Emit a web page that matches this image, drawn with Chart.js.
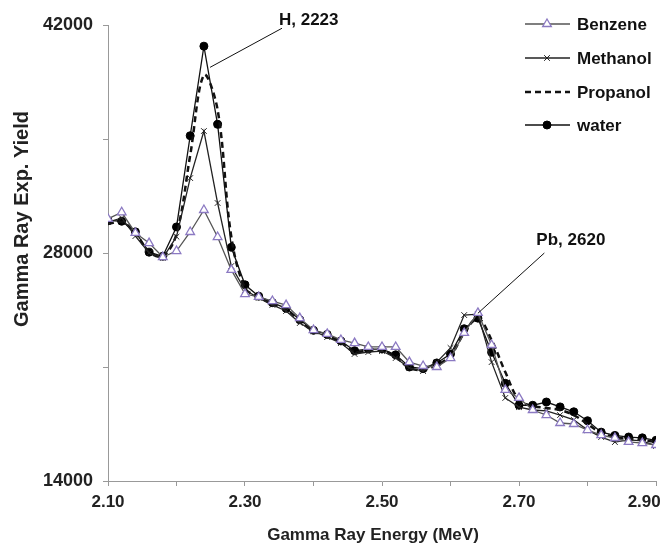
<!DOCTYPE html>
<html>
<head>
<meta charset="utf-8">
<script src="https://cdn.jsdelivr.net/npm/chart.js@4.4.1/dist/chart.umd.min.js"></script>
<style>
  html, body { margin: 0; padding: 0; background: #fff; }
  #wrap { width: 670px; height: 544px; }
</style>
</head>
<body>
<div id="wrap"><canvas id="grafico" width="670" height="544"></canvas></div>
<script>
// gamma ray energy (MeV)
const energy = [2.10, 2.12, 2.14, 2.16, 2.18, 2.20, 2.22, 2.24, 2.26, 2.28,
    2.30, 2.32, 2.34, 2.36, 2.38, 2.40, 2.42, 2.44, 2.46, 2.48,
    2.50, 2.52, 2.54, 2.56, 2.58, 2.60, 2.62, 2.64, 2.66, 2.68,
    2.70, 2.72, 2.74, 2.76, 2.78, 2.80, 2.82, 2.84, 2.86, 2.88, 2.90];

const benzene = [30100, 30500, 29230, 28610, 27750, 28120, 29290, 30640, 28980, 26960,
    25480, 25300, 25050, 24800, 24000, 23270, 23030, 22660, 22470, 22230,
    22230, 22230, 21300, 21060, 21000, 21550, 23090, 24320, 22350, 19590,
    19100, 18360, 18050, 17560, 17500, 17130, 16820, 16640, 16400, 16330, 16210];

const methanol = [29900, 30150, 29040, 28000, 27690, 29000, 32600, 35490, 31070, 27200,
    25730, 25240, 24810, 24440, 23700, 23210, 22840, 22470, 21800, 21920,
    21980, 21550, 20940, 20750, 21300, 22170, 24190, 24250, 21300, 19100,
    18540, 18360, 18300, 18050, 17750, 17130, 16700, 16390, 16520, 16460, 16150];

const propanol = [29780, 29900, 29230, 28060, 27800, 29170, 34000, 38930, 36800, 29000,
    25850, 25300, 24870, 24560, 23820, 23210, 22900, 22530, 21920, 22040,
    22040, 21610, 20940, 20820, 21120, 21680, 23090, 24000, 22660, 20690,
    18970, 18610, 18480, 18360, 18050, 17500, 16950, 16700, 16580, 16520, 16390];

const water = [30000, 29950, 29300, 28050, 27800, 29600, 35200, 40700, 35900, 28350,
    26050, 25350, 24950, 24600, 23900, 23250, 23000, 22600, 22000, 22100,
    22100, 21750, 21000, 20900, 21250, 21800, 23350, 24000, 21900, 20000,
    18650, 18650, 18850, 18550, 18250, 17700, 17000, 16800, 16700, 16650, 16500];

const yTicks = [14000, 28000, 42000];
const xTicks = ['2.10', '2.30', '2.50', '2.70', '2.90'];

// peak labels: text, line start and end in data units
const peaks = [
    { text: 'H, 2223', from: [2.249, 39400], to: [2.354, 41800] },
    { text: 'Pb, 2620', from: [2.640, 24300], to: [2.737, 28000] }
];

const FONT = "'Liberation Sans', Arial, sans-serif";

function pontos(serie) {
    return energy.map((e, i) => ({ x: e, y: serie[i] }));
}

const extras = {
    id: 'extras',
    afterDatasetsDraw(chart) {
        const ctx = chart.ctx;
        const sx = chart.scales.x;
        const sy = chart.scales.y;
        ctx.save();

        // peak labels
        ctx.strokeStyle = '#111';
        ctx.lineWidth = 1;
        ctx.fillStyle = '#111';
        ctx.font = `bold 17px ${FONT}`;
        ctx.textAlign = 'left';
        ctx.textBaseline = 'alphabetic';
        peaks.forEach((p, i) => {
            const x1 = sx.getPixelForValue(p.from[0]), y1 = sy.getPixelForValue(p.from[1]);
            const x2 = sx.getPixelForValue(p.to[0]), y2 = sy.getPixelForValue(p.to[1]);
            ctx.beginPath();
            ctx.moveTo(x1, y1);
            ctx.lineTo(x2, y2);
            ctx.stroke();
            if (i === 0) ctx.fillText(p.text, x2 - 3, y2 - 3);
            else ctx.fillText(p.text, x2 - 8, y2 - 8);
        });

        // legend
        const rows = [24, 58, 92, 125];
        chart.data.datasets.forEach((ds, i) => {
            const y = rows[i];
            ctx.save();
            ctx.strokeStyle = ds.borderColor;
            ctx.lineWidth = ds.borderWidth;
            ctx.setLineDash(ds.borderDash || []);
            ctx.beginPath();
            ctx.moveTo(525, y);
            ctx.lineTo(570, y);
            ctx.stroke();
            ctx.restore();
            if (ds.pointStyle && ds.pointRadius > 0) {
                ctx.save();
                ctx.fillStyle = ds.pointBackgroundColor;
                ctx.strokeStyle = ds.pointBorderColor;
                ctx.lineWidth = ds.pointBorderWidth;
                Chart.helpers.drawPoint(ctx, {
                    pointStyle: ds.pointStyle,
                    radius: ds.pointRadius,
                    rotation: 0,
                    borderWidth: ds.pointBorderWidth
                }, 547, y);
                ctx.restore();
            }
            ctx.fillStyle = '#111';
            ctx.font = `bold 17px ${FONT}`;
            ctx.textBaseline = 'middle';
            ctx.fillText(ds.label, 577, y + 1);
        });

        // axis titles
        ctx.fillStyle = '#222';
        ctx.textAlign = 'center';
        ctx.textBaseline = 'middle';
        ctx.font = `bold 17px ${FONT}`;
        ctx.fillText('Gamma Ray Energy (MeV)', 373, 535);
        ctx.translate(22, 219);
        ctx.rotate(-Math.PI / 2);
        ctx.font = `bold 20px ${FONT}`;
        ctx.fillText('Gamma Ray Exp. Yield', 0, 0);
        ctx.restore();
    }
};

function gerarGrafico() {
    const base = { showLine: true, fill: false, tension: 0 };
    new Chart(document.getElementById('grafico'), {
        type: 'scatter',
        data: {
            datasets: [
                {
                    ...base,
                    label: 'Benzene',
                    data: pontos(benzene),
                    borderColor: '#555',
                    borderWidth: 1.3,
                    pointStyle: 'triangle',
                    pointRadius: 5,
                    pointBorderWidth: 1.3,
                    pointBorderColor: '#8b79c2',
                    pointBackgroundColor: '#fff'
                },
                {
                    ...base,
                    label: 'Methanol',
                    data: pontos(methanol),
                    borderColor: '#222',
                    borderWidth: 1.3,
                    pointStyle: 'crossRot',
                    pointRadius: 4,
                    pointBorderWidth: 1,
                    pointBorderColor: '#222',
                    pointBackgroundColor: '#222'
                },
                {
                    ...base,
                    label: 'Propanol',
                    data: pontos(propanol),
                    borderColor: '#111',
                    borderWidth: 2.5,
                    borderDash: [6, 4],
                    tension: 0.35,
                    pointRadius: 0
                },
                {
                    ...base,
                    label: 'water',
                    data: pontos(water),
                    borderColor: '#111',
                    borderWidth: 1.3,
                    pointStyle: 'circle',
                    pointRadius: 4,
                    pointBorderWidth: 1,
                    pointBorderColor: '#000',
                    pointBackgroundColor: '#000'
                }
            ]
        },
        options: {
            responsive: false,
            animation: false,
            layout: { padding: { top: 25, right: 14, left: 0, bottom: 0 } },
            plugins: {
                legend: { display: false },
                tooltip: { enabled: false }
            },
            scales: {
                x: {
                    type: 'linear',
                    min: 2.1,
                    max: 2.9,
                    afterFit: (scale) => {
                        scale.height = 63;
                        scale.paddingLeft = 0;
                        scale.paddingRight = 0;
                    },
                    grid: { drawOnChartArea: false, drawTicks: true, tickLength: 5, color: '#999' },
                    border: { color: '#999' },
                    ticks: {
                        stepSize: 0.1,
                        padding: 6,
                        maxRotation: 0,
                        autoSkip: false,
                        color: '#222',
                        font: { family: FONT, size: 17, weight: 'bold' },
                        callback: (v) => {
                            const t = Number(v).toFixed(2);
                            if (!xTicks.includes(t)) return '';
                            // last label kept inside the canvas, as in the original
                            return t === '2.90' ? t + '     ' : t;
                        }
                    }
                },
                y: {
                    min: 14000,
                    max: 42000,
                    afterFit: (scale) => {
                        scale.width = 108;
                        scale.paddingTop = 0;
                        scale.paddingBottom = 0;
                    },
                    grid: { drawOnChartArea: false, drawTicks: true, tickLength: 5, color: '#999' },
                    border: { color: '#999' },
                    ticks: {
                        stepSize: 7000,
                        padding: 10,
                        autoSkip: false,
                        color: '#222',
                        font: { family: FONT, size: 18, weight: 'bold' },
                        callback: (v) => yTicks.includes(v) ? String(v) : ''
                    }
                }
            }
        },
        plugins: [extras]
    });
}

gerarGrafico();
</script>
</body>
</html>
